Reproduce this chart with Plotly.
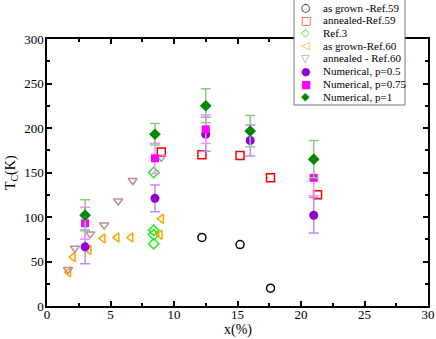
import plotly.graph_objects as go

# as grown - Ref.59
ag59_x = [12.2, 15.2, 17.6]
ag59_y = [77, 69, 20]
# annealed - Ref.59
an59_x = [9.0, 12.2, 15.2, 17.6, 21.3]
an59_y = [173, 170, 169, 144, 125]
# Ref.3
r3_x = [8.4, 8.4, 8.4, 8.4]
r3_y = [150, 85, 80, 70]
# as grown - Ref.60
ag60_x = [1.7, 2.05, 3.3, 4.4, 5.5, 6.6, 9.0, 8.9]
ag60_y = [38, 55, 63, 76, 77, 77, 98, 80]
# annealed - Ref.60
an60_x = [1.65, 2.2, 3.4, 4.5, 5.6, 6.75, 9.0]
an60_y = [41, 65, 81, 91, 118, 141, 167]
# numerical results
num_x = [3.0, 8.5, 12.5, 16.0, 21.0]
p05_y = [66.5, 121, 193, 186, 102]
p05_e = [19, 15, 19, 17.5, 20]
p075_x = [3.0, 8.5, 12.5, 21.0]
p075_y = [93, 166, 198.5, 144]
p075_e = [18, 17, 16, 20]
p1_y = [102, 193, 225, 196.5, 165]
p1_e = [17.5, 12, 19, 17.5, 21]

serif = "Liberation Serif"
W, H = 436, 339
L, R, T, B = 47, 8, 39, 33

fig = go.Figure()
legend_rows = []  # (name, glyph, colour)

def openm(x, y, name, sym, col, glyph):
    fig.add_trace(go.Scatter(x=x, y=y, mode="markers", name=name, showlegend=False,
                             marker=dict(symbol=sym, size=8, color=col,
                                         line=dict(width=1.5, color=col))))
    legend_rows.append((name, glyph, col))

openm(ag59_x, ag59_y, "as grown -Ref.59", "circle-open", "black", "\u25cb")
openm(an59_x, an59_y, "annealed-Ref.59", "square-open", "#ff0000", "\u25a1")
openm(r3_x, r3_y, "Ref.3", "diamond-open", "#22ee22", "\u25c7")
openm(ag60_x, ag60_y, "as grown-Ref.60", "triangle-left-open", "#ffa500", "\u25c1")
openm(an60_x, an60_y, "annealed - Ref.60", "triangle-down-open", "#bc8f8f", "\u25bd")

def num(x, y, e, name, sym, col, ecol, glyph, size=9):
    fig.add_trace(go.Scatter(x=x, y=y, mode="markers", name=name, showlegend=False,
                             marker=dict(symbol=sym, size=size, color=col),
                             error_y=dict(type="data", array=e, color=ecol,
                                          thickness=1.5, width=5)))
    legend_rows.append((name, glyph, col))

num(num_x, p05_y, p05_e, "Numerical, p=0.5", "circle", "#9400d3", "#c58ae6", "\u25cf")
num(p075_x, p075_y, p075_e, "Numerical, p=0.75", "square", "#ff00ff", "#ff8cff", "\u25a0", size=8)
num(num_x, p1_y, p1_e, "Numerical, p=1", "diamond", "#008800", "#88cc88", "\u25c6")

ax = dict(showline=True, linecolor="black", linewidth=1.5, mirror="allticks",
          ticks="inside", ticklen=5, tickwidth=1.5, tickcolor="black",
          showgrid=False, zeroline=False,
          tickfont=dict(family=serif, size=13, color="black"))

fig.update_xaxes(**ax, range=[0, 30], dtick=5, ticklabelstandoff=-4,
                 minor=dict(ticks="inside", dtick=2.5, ticklen=3, tickwidth=1.5, tickcolor="black"))
fig.update_yaxes(**ax, range=[0, 300], dtick=50, ticklabelstandoff=-1,
                 minor=dict(ticks="inside", dtick=25, ticklen=3, tickwidth=1.5, tickcolor="black"))

# pixel -> paper helpers
pw, ph = W - L - R, H - T - B
px = lambda p: (p - L) / pw
py = lambda p: (H - B - p) / ph

# axis titles
fig.add_annotation(x=px(238), y=py(330), xref="paper", yref="paper", text="x(%)",
                   xanchor="center", yanchor="middle",
                   showarrow=False, font=dict(family=serif, size=14, color="black"))
fig.add_annotation(x=px(11), y=py(173), xref="paper", yref="paper", text="T<sub>C</sub>(K)",
                   xanchor="center", yanchor="middle",
                   textangle=-90, showarrow=False, font=dict(family=serif, size=14, color="black"))

# legend box
fig.add_shape(type="rect", xref="paper", yref="paper", layer="above",
              x0=px(294), x1=px(405), y0=py(105), y1=py(-2),
              fillcolor="white", line=dict(color="#777777", width=1))
row0, step = 7.5, 12.75
for i, (name, glyph, col) in enumerate(legend_rows):
    yy = py(row0 + i * step)
    fig.add_annotation(x=px(305.5), y=yy, xref="paper", yref="paper", text=glyph,
                       showarrow=False, xanchor="center", yanchor="middle", borderpad=0,
                       font=dict(family="DejaVu Sans", size=11, color=col))
    fig.add_annotation(x=px(322), y=yy, xref="paper", yref="paper", text=name,
                       showarrow=False, xanchor="left", yanchor="middle", borderpad=0,
                       font=dict(family=serif, size=11, color="black"))

fig.update_layout(width=W, height=H,
                  margin=dict(l=L, r=R, t=T, b=B, autoexpand=False),
                  plot_bgcolor="white", paper_bgcolor="white", showlegend=False)
fig.write_html("out.html", config={"displayModeBar": False},
               post_script="document.body.style.margin='0';")
